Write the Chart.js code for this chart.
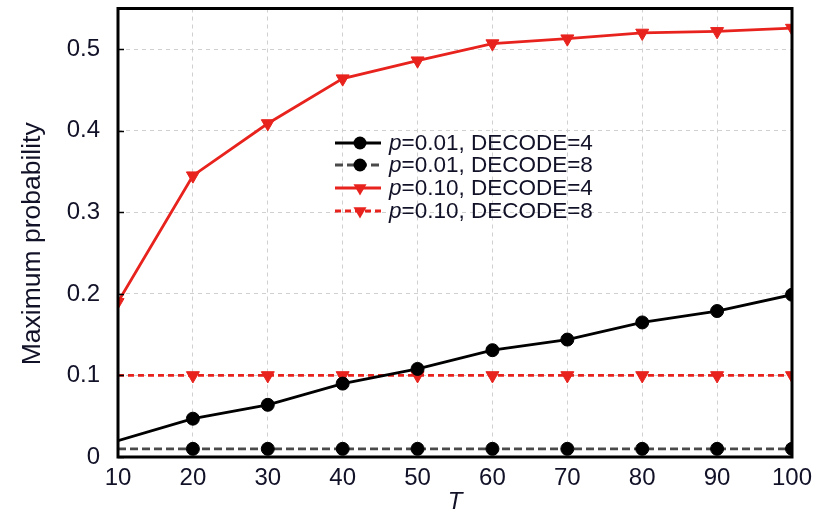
<!DOCTYPE html>
<html>
<head>
<meta charset="utf-8">
<script src="https://cdn.jsdelivr.net/npm/chart.js@4/dist/chart.umd.min.js"></script>
<style>
  html, body { margin: 0; padding: 0; background: #ffffff; }
  #wrap { width: 828px; height: 520px; position: relative; }
</style>
</head>
<body>
<div id="wrap"><canvas id="c" width="828" height="520"></canvas></div>
<script>
// ---- data ----
const T = [10, 20, 30, 40, 50, 60, 70, 80, 90, 100];
const p001_dec4 = [0.020, 0.047, 0.064, 0.090, 0.108, 0.131, 0.144, 0.165, 0.179, 0.199];
const p001_dec8 = [0.010, 0.010, 0.010, 0.010, 0.010, 0.010, 0.010, 0.010, 0.010, 0.010];
const p010_dec4 = [0.190, 0.345, 0.409, 0.464, 0.486, 0.507, 0.513, 0.520, 0.522, 0.526];
const p010_dec8 = [0.100, 0.100, 0.100, 0.100, 0.100, 0.100, 0.100, 0.100, 0.100, 0.100];
const seriesLabels = [
  ['p', '=0.01, DECODE=4'],
  ['p', '=0.01, DECODE=8'],
  ['p', '=0.10, DECODE=4'],
  ['p', '=0.10, DECODE=8']
];
const yTicks = [0, 0.1, 0.2, 0.3, 0.4, 0.5];
const xTitle = 'T';
const yTitle = 'Maximum probability';

const FONT = '"Liberation Sans", Arial, Helvetica, sans-serif';
const RED = '#e8231e';

function pts(ys) { return T.map((x, i) => ({ x: x, y: ys[i] })); }
function radii(first, r) { return T.map((_, i) => i === 0 ? first : r); }

const datasets = [
  { label: seriesLabels[0].join(''), data: pts(p001_dec4), borderColor: '#000000', backgroundColor: '#000000',
    borderWidth: 2.8, borderDash: [], pointStyle: 'circle', pointRadius: radii(0, 6.5), pointRotation: 0 },
  { label: seriesLabels[1].join(''), data: pts(p001_dec8), borderColor: '#4a4a4a', backgroundColor: '#000000',
    borderWidth: 2.8, borderDash: [8, 4], pointStyle: 'circle', pointRadius: radii(0, 6.5), pointRotation: 0 },
  { label: seriesLabels[2].join(''), data: pts(p010_dec4), borderColor: RED, backgroundColor: RED,
    borderWidth: 2.8, borderDash: [], pointStyle: 'triangle', pointRadius: radii(7, 7.5), pointRotation: 180 },
  { label: seriesLabels[3].join(''), data: pts(p010_dec8), borderColor: RED, backgroundColor: RED,
    borderWidth: 2.8, borderDash: [6, 4], pointStyle: 'triangle', pointRadius: radii(0, 7.5), pointRotation: 180 }
];
datasets.forEach(d => { d.pointBorderColor = d.backgroundColor; d.pointBorderWidth = 1; d.fill = false; d.tension = 0; });

function drawMarker(ctx, style, x, y, r, color) {
  ctx.save();
  ctx.fillStyle = color;
  ctx.setLineDash([]);
  ctx.beginPath();
  if (style === 'circle') {
    ctx.arc(x, y, r, 0, Math.PI * 2);
  } else {
    const h = r * 1.5;
    ctx.moveTo(x - r * 0.87, y - h / 3);
    ctx.lineTo(x + r * 0.87, y - h / 3);
    ctx.lineTo(x, y + 2 * h / 3);
    ctx.closePath();
  }
  ctx.fill();
  ctx.restore();
}

const framePlugin = {
  id: 'frame',
  afterDatasetsDraw(chart) {
    const { ctx, chartArea: a, scales } = chart;
    ctx.save();
    ctx.setLineDash([]);
    ctx.strokeStyle = '#000000';
    ctx.lineWidth = 1.5;
    yTicks.forEach(v => {
      const y = Math.round(scales.y.getPixelForValue(v)) + 0.5;
      ctx.beginPath();
      ctx.moveTo(a.left, y);
      ctx.lineTo(a.left + 6, y);
      ctx.stroke();
    });
    ctx.lineWidth = 3;
    ctx.strokeRect(a.left, a.top, a.right - a.left, a.bottom - a.top);
    ctx.restore();
  }
};

const legendPlugin = {
  id: 'innerLegend',
  afterDraw(chart) {
    const { ctx } = chart;
    const x0 = 335, x1 = 381, xm = 360, xt = 389;
    const rows = [143, 165, 188, 211];
    ctx.save();
    chart.data.datasets.forEach((d, i) => {
      const y = rows[i];
      ctx.strokeStyle = d.borderColor;
      ctx.lineWidth = d.borderWidth;
      ctx.setLineDash(d.borderDash);
      ctx.beginPath();
      ctx.moveTo(x0, y);
      ctx.lineTo(x1, y);
      ctx.stroke();
      drawMarker(ctx, d.pointStyle, xm, y, d.pointStyle === 'circle' ? 6.5 : 7.5, d.backgroundColor);
      ctx.setLineDash([]);
      ctx.fillStyle = '#111128';
      ctx.textBaseline = 'middle';
      ctx.textAlign = 'left';
      ctx.font = 'italic 22.5px ' + FONT;
      ctx.fillText(seriesLabels[i][0], xt, y + 1);
      const w = ctx.measureText(seriesLabels[i][0]).width;
      ctx.font = '22.5px ' + FONT;
      ctx.fillText(seriesLabels[i][1], xt + w, y + 1);
    });
    ctx.restore();
  }
};

new Chart(document.getElementById('c'), {
  type: 'line',
  data: { datasets: datasets },
  plugins: [framePlugin, legendPlugin],
  options: {
    responsive: false,
    animation: false,
    events: [],
    layout: { padding: { top: 8, right: 36, left: 0, bottom: 0 } },
    plugins: { legend: { display: false }, tooltip: { enabled: false } },
    scales: {
      x: {
        type: 'linear', min: 10, max: 100,
        afterFit(s) { s.height = 63; s.paddingLeft = 0; s.paddingRight = 0; },
        ticks: { stepSize: 10, padding: 7, color: '#111128', font: { family: FONT, size: 24 } },
        grid: { color: '#d0d0d0', lineWidth: 1, drawTicks: false },
        border: { display: false, dash: [4, 4] },
        title: { display: true, text: xTitle, color: '#111128', padding: { top: 0, bottom: 3 },
                 font: { family: FONT, size: 24, style: 'italic' } }
      },
      y: {
        type: 'linear', min: 0, max: 0.55,
        afterFit(s) { s.width = 118; s.paddingTop = 0; s.paddingBottom = 0; },
        afterBuildTicks(s) { s.ticks = yTicks.map(v => ({ value: v })); },
        ticks: { padding: 18, color: '#111128', font: { family: FONT, size: 24 },
                 callback: v => String(Math.round(v * 10) / 10) },
        grid: { color: '#d0d0d0', lineWidth: 1, drawTicks: false },
        border: { display: false, dash: [4, 4] },
        title: { display: true, text: yTitle + '\u00a0\u00a0\u00a0', color: '#111128', padding: { top: 17, bottom: 0 },
                 font: { family: FONT, size: 26.5 } }
      }
    }
  }
});
</script>
</body>
</html>
